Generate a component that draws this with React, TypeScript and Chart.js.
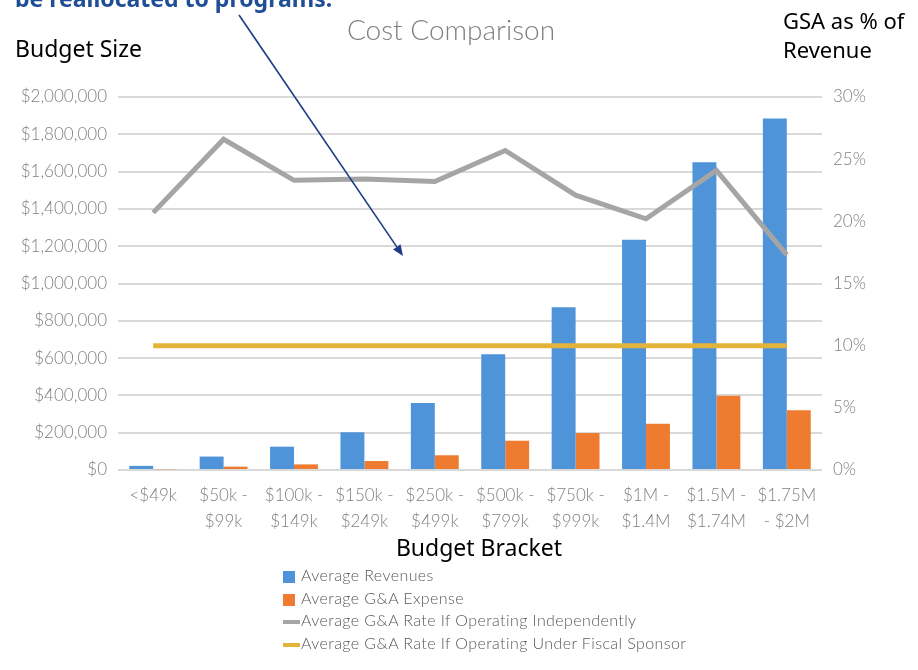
import React, { useEffect, useRef } from "react";
import { Chart, registerables } from "chart.js";

Chart.register(...registerables);

const categories: string[][] = [
  ["<$49k"],
  ["$50k -", "$99k"],
  ["$100k -", "$149k"],
  ["$150k -", "$249k"],
  ["$250k -", "$499k"],
  ["$500k -", "$799k"],
  ["$750k -", "$999k"],
  ["$1M -", "$1.4M"],
  ["$1.5M -", "$1.74M"],
  ["$1.75M", "- $2M"],
];

const averageRevenues = [22000, 72000, 125000, 202000, 359000, 620000, 872000, 1235000, 1650000, 1885000];
const averageGAExpense = [4000, 18000, 30000, 48000, 79000, 157000, 198000, 248000, 398000, 320000];
const rateIndependent = [20.7, 26.6, 23.3, 23.4, 23.2, 25.7, 22.1, 20.2, 24.1, 17.3];
const rateFiscalSponsor = [10, 10, 10, 10, 10, 10, 10, 10, 10, 10];

const seriesNames = [
  "Average Revenues",
  "Average G&A Expense",
  "Average G&A Rate If Operating Independently",
  "Average G&A Rate If Operating Under Fiscal Sponsor",
];

const BLUE = "#4f93d8";
const ORANGE = "#ee7b30";
const GRAY = "#a5a5a5";
const GOLD = "#e2b43b";
const TICK = "#808080";
const TICK_FONT = { family: "Lato", size: 17, weight: 300 as any, lineHeight: 1.5 };

export default function App() {
  const canvasRef = useRef<HTMLCanvasElement | null>(null);

  useEffect(() => {
    const canvas = canvasRef.current;
    if (!canvas) return;
    const chart = new Chart(canvas, {
      type: "bar",
      data: {
        labels: categories as any,
        datasets: [
          {
            type: "line",
            label: seriesNames[2],
            data: rateIndependent,
            yAxisID: "y1",
            borderColor: GRAY,
            backgroundColor: GRAY,
            borderWidth: 5,
            pointRadius: 0,
            tension: 0,
            order: 1,
          } as any,
          {
            type: "line",
            label: seriesNames[3],
            data: rateFiscalSponsor,
            yAxisID: "y1",
            borderColor: GOLD,
            backgroundColor: GOLD,
            borderWidth: 5,
            pointRadius: 0,
            tension: 0,
            order: 1,
          } as any,
          {
            type: "bar",
            label: seriesNames[0],
            data: averageRevenues,
            yAxisID: "y",
            backgroundColor: BLUE,
            categoryPercentage: 0.68,
            barPercentage: 1,
            order: 2,
          } as any,
          {
            type: "bar",
            label: seriesNames[1],
            data: averageGAExpense,
            yAxisID: "y",
            backgroundColor: ORANGE,
            categoryPercentage: 0.68,
            barPercentage: 1,
            order: 2,
          } as any,
        ],
      },
      options: {
        responsive: false,
        animation: false,
        devicePixelRatio: 1,
        layout: { padding: { top: 14.2, left: 0, right: 16, bottom: 140 } },
        plugins: {
          legend: { display: false },
          tooltip: { enabled: false },
          title: {
            display: true,
            text: "Cost Comparison",
            color: "#7f7f7f",
            font: { family: "Lato", size: 28, weight: 300 as any, lineHeight: 1.2 },
            padding: { top: 0, bottom: 49.2 },
          },
        },
        scales: {
          x: {
            grid: { display: false },
            border: { display: false },
            ticks: {
              color: TICK,
              font: TICK_FONT,
              maxRotation: 0,
              autoSkip: false,
              padding: 5,
            },
            afterFit: (s: any) => {
              s.height = 60;
            },
          },
          y: {
            position: "left",
            min: 0,
            max: 2000000,
            grid: { color: "#d9d9d9", lineWidth: 2, drawTicks: false },
            border: { display: false },
            ticks: {
              stepSize: 200000,
              color: TICK,
              font: TICK_FONT,
              padding: 11,
              callback: (v: any) => "$" + Number(v).toLocaleString("en-US"),
            },
            afterFit: (s: any) => {
              s.width = 118;
            },
          },
          y1: {
            position: "right",
            min: 0,
            max: 30,
            grid: { drawOnChartArea: false, drawTicks: false },
            border: { display: false },
            ticks: {
              stepSize: 5,
              color: TICK,
              font: TICK_FONT,
              padding: 11,
              callback: (v: any) => v + "%",
            },
            afterFit: (s: any) => {
              s.width = 80;
            },
          },
        },
      },
    });
    return () => chart.destroy();
  }, []);

  // arrow geometry
  const x1 = 239, y1 = 15, x2 = 403, y2 = 256;
  const dx = x2 - x1, dy = y2 - y1;
  const len = Math.sqrt(dx * dx + dy * dy);
  const ux = dx / len, uy = dy / len;
  const hl = 11, hw = 4.5;
  const bx = x2 - hl * ux, by = y2 - hl * uy;
  const p1 = `${x2},${y2} ${bx - uy * hw},${by + ux * hw} ${bx + uy * hw},${by - ux * hw}`;

  const legendRows = [577, 600, 622, 645];

  return (
    <div style={{ position: "absolute", left: 0, top: 0, width: 918, height: 670, background: "#fff", overflow: "hidden" }}>
      <canvas ref={canvasRef} width={918} height={670} style={{ position: "absolute", left: 0, top: 0, width: 918, height: 670 }} />
      <svg width={918} height={670} style={{ position: "absolute", left: 0, top: 0, pointerEvents: "none" }}>
        <text x={15} y={7} fontFamily="Noto Sans" fontWeight={700} fontSize={23} fill="#1f4e96">
          be reallocated to programs:
        </text>
        <text x={15} y={57} fontFamily="Noto Sans" fontSize={23} fill="#000">
          Budget Size
        </text>
        <text x={783} y={29} fontFamily="Noto Sans" fontSize={22} fill="#000">
          GSA as % of
        </text>
        <text x={783} y={58} fontFamily="Noto Sans" fontSize={22} fill="#000">
          Revenue
        </text>
        <text x={479} y={556} textAnchor="middle" fontFamily="Noto Sans" fontSize={23} fill="#000">
          Budget Bracket
        </text>
        <line x1={x1} y1={y1} x2={bx} y2={by} stroke="#1f3c88" strokeWidth={1.6} />
        <polygon points={p1} fill="#1f3c88" />
        {seriesNames.map((name, i) => {
          const cy = legendRows[i];
          const color = [BLUE, ORANGE, GRAY, GOLD][i];
          return (
            <g key={name}>
              {i < 2 ? (
                <rect x={283} y={cy - 6} width={12} height={12} fill={color} />
              ) : (
                <line x1={283} y1={cy} x2={300} y2={cy} stroke={color} strokeWidth={4} />
              )}
              <text x={301} y={cy} dominantBaseline="middle" fontFamily="Lato" fontWeight={300} fontSize={16} letterSpacing={0.4} fill="#595959">
                {name}
              </text>
            </g>
          );
        })}
      </svg>
    </div>
  );
}
